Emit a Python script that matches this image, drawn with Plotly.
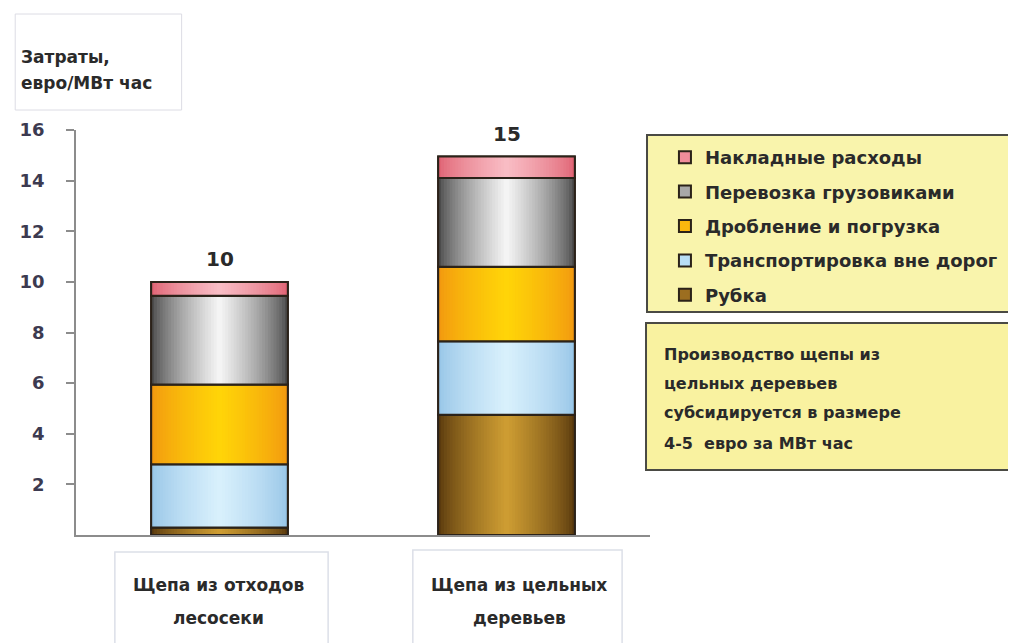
import plotly.graph_objects as go

# ---------------- data ----------------
categories = ["Щепа из отходов лесосеки", "Щепа из цельных деревьев"]
category_lines = [["Щепа из отходов", "лесосеки"], ["Щепа из цельных", "деревьев"]]
series_names = ["Рубка", "Транспортировка вне дорог", "Дробление и погрузка",
                "Перевозка грузовиками", "Накладные расходы"]
rubka = [0.3, 4.75]
transport_offroad = [2.5, 2.9]
chipping_loading = [3.15, 2.95]
truck_haul = [3.5, 3.5]
overheads = [0.55, 0.85]
series_values = [rubka, transport_offroad, chipping_loading, truck_haul, overheads]
y_ticks = [2, 4, 6, 8, 10, 12, 14, 16]
y_title_lines = ["Затраты,", "евро/МВт час"]
note_lines = ["Производство щепы из", "цельных деревьев",
              "субсидируется в размере", "4-5  евро за МВт час"]

# ---------------- style ----------------
FONT = "DejaVu Sans"
# (edge colour, centre colour, legend colour)
styles = [
    ("#5a3a0e", "#cd9c32", "#9c6e20"),
    ("#98c6e8", "#d8f0fc", "#b8def5"),
    ("#f29810", "#ffd408", "#fbb70e"),
    ("#4c4c4c", "#f4f4f4", "#a8a8a8"),
    ("#e06474", "#f9bcc4", "#f08c9a"),
]
OUTLINE = "#2b2219"
OFF = 8  # page body margin
W_FIG, H_FIG = 1016, 643
M = dict(l=74 - OFF, r=1016 - 650 + OFF, t=130 - OFF, b=int(round(643 - 534.6 + OFF)))
PW = W_FIG - M["l"] - M["r"]
PH = H_FIG - M["t"] - M["b"]


def px(x):
    return (x - OFF - M["l"]) / PW


def py(y):
    return (H_FIG - M["b"] - (y - OFF)) / PH


def hex2rgb(h):
    h = h.lstrip("#")
    return [int(h[i:i + 2], 16) for i in (0, 2, 4)]


def mix(a, b, t):
    ca, cb = hex2rgb(a), hex2rgb(b)
    c = [round(ca[i] + (cb[i] - ca[i]) * t) for i in range(3)]
    return "rgb(%d,%d,%d)" % tuple(c)


x_idx = list(range(len(categories)))
BAR_W = 0.476
N_LAYERS = 24

fig = go.Figure()
cum = [0.0] * len(categories)
n_series = len(series_names)
for si, (name, vals, (edge, centre, avg)) in enumerate(zip(series_names, series_values, styles)):
    base = list(cum)
    rank = 100 + (n_series - si) * 10  # top segment listed first
    fig.add_trace(go.Bar(x=x_idx, y=vals, base=base, width=BAR_W, name=name,
                         legendgroup=name, legendrank=rank, showlegend=True, hoverinfo="skip",
                         marker=dict(color=avg, line=dict(color=OUTLINE, width=2))))
    for k in range(N_LAYERS):
        t = k / (N_LAYERS - 1)
        fig.add_trace(go.Bar(x=x_idx, y=vals, base=base, width=BAR_W * (1 - k / N_LAYERS),
                             legendgroup=name, legendrank=rank, showlegend=False, hoverinfo="skip",
                             marker=dict(color=mix(edge, centre, t ** 0.75), line=dict(width=0))))
    fig.add_trace(go.Bar(x=x_idx, y=vals, base=base, width=BAR_W,
                         legendgroup=name, legendrank=rank, showlegend=False, hoverinfo="skip",
                         marker=dict(color="rgba(0,0,0,0)", line=dict(color=OUTLINE, width=2))))
    cum = [c + v for c, v in zip(cum, vals)]

annotations = []
# totals on top of bars
for i, tot in enumerate(cum):
    annotations.append(dict(x=i, y=tot, xref="x", yref="y", text="%d" % round(tot),
                            showarrow=False, yanchor="bottom", yshift=9,
                            font=dict(family=FONT, size=20, color="#2a2a2a", weight="bold")))

shapes = []
# y title box
shapes.append(dict(type="rect", xref="paper", yref="paper", x0=px(13), x1=px(180),
                   y0=py(110), y1=py(14), line=dict(color="#dcdce4", width=1),
                   fillcolor="white", layer="below"))
for j, (line, yy) in enumerate(zip(y_title_lines, [57, 83])):
    annotations.append(dict(x=px(17), y=py(yy), xref="paper", yref="paper", text=line,
                            showarrow=False, xanchor="left", yanchor="middle",
                            font=dict(family=FONT, size=17, color="#2a2a2a", weight="bold")))

# category label boxes
cat_boxes = [(113, 327, 552), (412, 622, 550)]
cat_centres = [217, 519]
for i, lines in enumerate(category_lines):
    x0, x1, y0 = cat_boxes[i]
    shapes.append(dict(type="rect", xref="paper", yref="paper", x0=px(x0), x1=px(x1),
                       y0=py(y0), y1=py(690), line=dict(color="#dcdfe8", width=1.5),
                       fillcolor="white", layer="below"))
    for line, yy in zip(lines, [585, 618]):
        annotations.append(dict(x=px(cat_centres[i]), y=py(yy), xref="paper", yref="paper",
                                text=line, showarrow=False, xanchor="center", yanchor="middle",
                                font=dict(family=FONT, size=17, color="#2a2a2a", weight="bold")))

# legend box background
shapes.append(dict(type="rect", xref="paper", yref="paper", x0=px(647), x1=px(1050),
                   y0=py(312), y1=py(135), line=dict(color="#4a4a44", width=2),
                   fillcolor="#f9f4ac", layer="below"))
# note box
shapes.append(dict(type="rect", xref="paper", yref="paper", x0=px(646), x1=px(1050),
                   y0=py(470), y1=py(323), line=dict(color="#4a4a44", width=2),
                   fillcolor="#f9f2a0", layer="below"))
for line, yy in zip(note_lines, [354, 383, 412, 443]):
    annotations.append(dict(x=px(662), y=py(yy), xref="paper", yref="paper", text=line,
                            showarrow=False, xanchor="left", yanchor="middle",
                            font=dict(family=FONT, size=16, color="#2a2a2a", weight="bold")))

fig.update_layout(
    width=W_FIG, height=H_FIG,
    margin=M,
    paper_bgcolor="white", plot_bgcolor="white",
    barmode="overlay",
    showlegend=True,
    legend=dict(x=px(665), y=py(139), xanchor="left", yanchor="top",
                bgcolor="rgba(0,0,0,0)", borderwidth=0,
                traceorder="grouped", tracegroupgap=8,
                font=dict(family=FONT, size=18, color="#2a2a2a", weight="bold")),
    xaxis=dict(range=[-0.5, 1.5], showticklabels=False, ticks="", showgrid=False,
               zeroline=False, showline=True, linecolor="#8c8c8c", linewidth=2),
    yaxis=dict(range=[0, 16], tickvals=y_ticks, ticks="outside", ticklen=8,
               tickcolor="#8c8c8c", tickwidth=1.5, showline=True, linecolor="#8c8c8c",
               linewidth=1.5, showgrid=False, zeroline=False, ticklabelstandoff=18,
               tickfont=dict(family=FONT, size=18, color="#3c3a50", weight="bold")),
    shapes=shapes,
    annotations=annotations,
)

fig.write_html("out.html")
